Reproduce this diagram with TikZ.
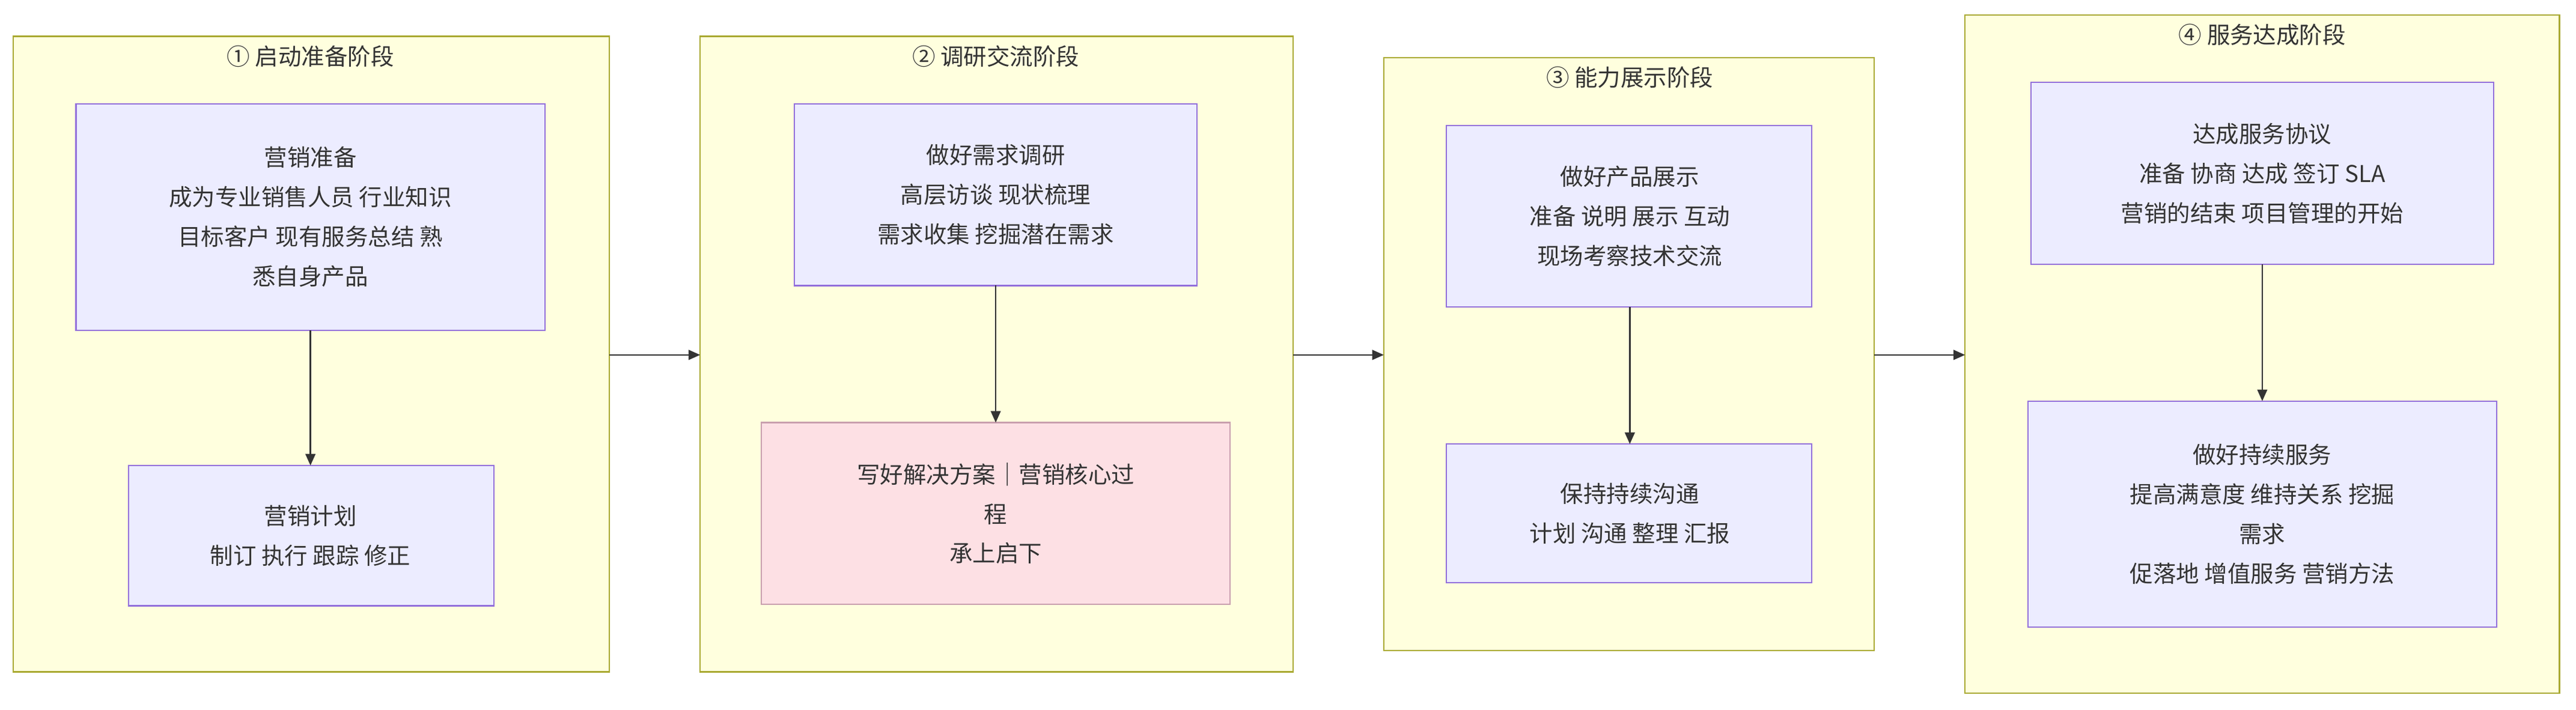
\documentclass[tikz,border=0pt]{standalone}
\usepackage{fontspec}
\setmainfont{Noto Sans CJK SC}
\usetikzlibrary{arrows.meta}
\definecolor{cfill}{HTML}{FFFFDE}\definecolor{cstroke}{HTML}{AAAA33}
\definecolor{nfill}{HTML}{ECECFF}\definecolor{nstroke}{HTML}{9370DB}
\definecolor{pfill}{HTML}{FDE0E4}\definecolor{pstroke}{HTML}{C9A0AE}
\definecolor{ln}{HTML}{333333}
\begin{document}
\begin{tikzpicture}[x=1pt,y=-1pt,
 clus/.style={draw=cstroke,fill=cfill,line width=0.8pt},
 nd/.style={draw=nstroke,fill=nfill,line width=0.8pt},
 pk/.style={draw=pstroke,fill=pfill,line width=0.8pt},
 txt/.style={align=center,font=\fontsize{14}{24}\selectfont,text=ln},
 ttl/.style={font=\fontsize{14}{17}\selectfont,text=ln},
 arr/.style={draw=ln,line width=0.9pt,-{Triangle[length=7pt,width=6pt]}}]
\useasboundingbox (0,0) rectangle (1560,430);
\fill[white] (0,0) rectangle (1560,430);
% clusters
\draw[clus] (8,22) rectangle (369,407); \node[ttl] at (188,34) {① 启动准备阶段};
\draw[clus] (424,22) rectangle (783,407); \node[ttl] at (603,34) {② 调研交流阶段};
\draw[clus] (838,35) rectangle (1135,394); \node[ttl] at (987,47) {③ 能力展示阶段};
\draw[clus] (1190,9) rectangle (1550,420); \node[ttl] at (1370,21) {④ 服务达成阶段};
\coordinate (c1r) at (369,215); \coordinate (c2l) at (424,215);
\coordinate (c2r) at (783,215); \coordinate (c3l) at (838,215);
\coordinate (c3r) at (1135,215); \coordinate (c4l) at (1190,215);
% nodes
\draw[nd] (46,63) rectangle (330,200); \node[txt] (a1) at (188,131.5) {营销准备\\成为专业销售人员 行业知识\\目标客户 现有服务总结 熟\\悉自身产品};
\draw[nd] (78,282) rectangle (299,367); \node[txt] (a2) at (188,324.5) {营销计划\\制订 执行 跟踪 修正};
\draw[nd] (481,63) rectangle (725,173); \node[txt] (b1) at (603,118) {做好需求调研\\高层访谈 现状梳理\\需求收集 挖掘潜在需求};
\draw[pk] (461,256) rectangle (745,366); \node[txt] (b2) at (603,311) {写好解决方案｜营销核心过\\程\\承上启下};
\draw[nd] (876,76) rectangle (1097,186); \node[txt] (c1) at (987,131) {做好产品展示\\准备 说明 展示 互动\\现场考察技术交流};
\draw[nd] (876,269) rectangle (1097,353); \node[txt] (c2) at (987,311) {保持持续沟通\\计划 沟通 整理 汇报};
\draw[nd] (1230,50) rectangle (1510,160); \node[txt] (d1) at (1370,105) {达成服务协议\\准备 协商 达成 签订 SLA\\营销的结束 项目管理的开始};
\draw[nd] (1228,243) rectangle (1512,380); \node[txt] (d2) at (1370,311.5) {做好持续服务\\提高满意度 维持关系 挖掘\\需求\\促落地 增值服务 营销方法};
\coordinate (a1b) at (188,200); \coordinate (a2t) at (188,282);
\coordinate (b1b) at (603,173); \coordinate (b2t) at (603,256);
\coordinate (c1b) at (987,186); \coordinate (c2t) at (987,269);
\coordinate (d1b) at (1370,160); \coordinate (d2t) at (1370,243);
\draw[arr] (a1b) -- (a2t); \draw[arr] (b1b) -- (b2t);
\draw[arr] (c1b) -- (c2t); \draw[arr] (d1b) -- (d2t);
\draw[arr] (c1r) -- (c2l); \draw[arr] (c2r) -- (c3l); \draw[arr] (c3r) -- (c4l);
\end{tikzpicture}
\end{document}
